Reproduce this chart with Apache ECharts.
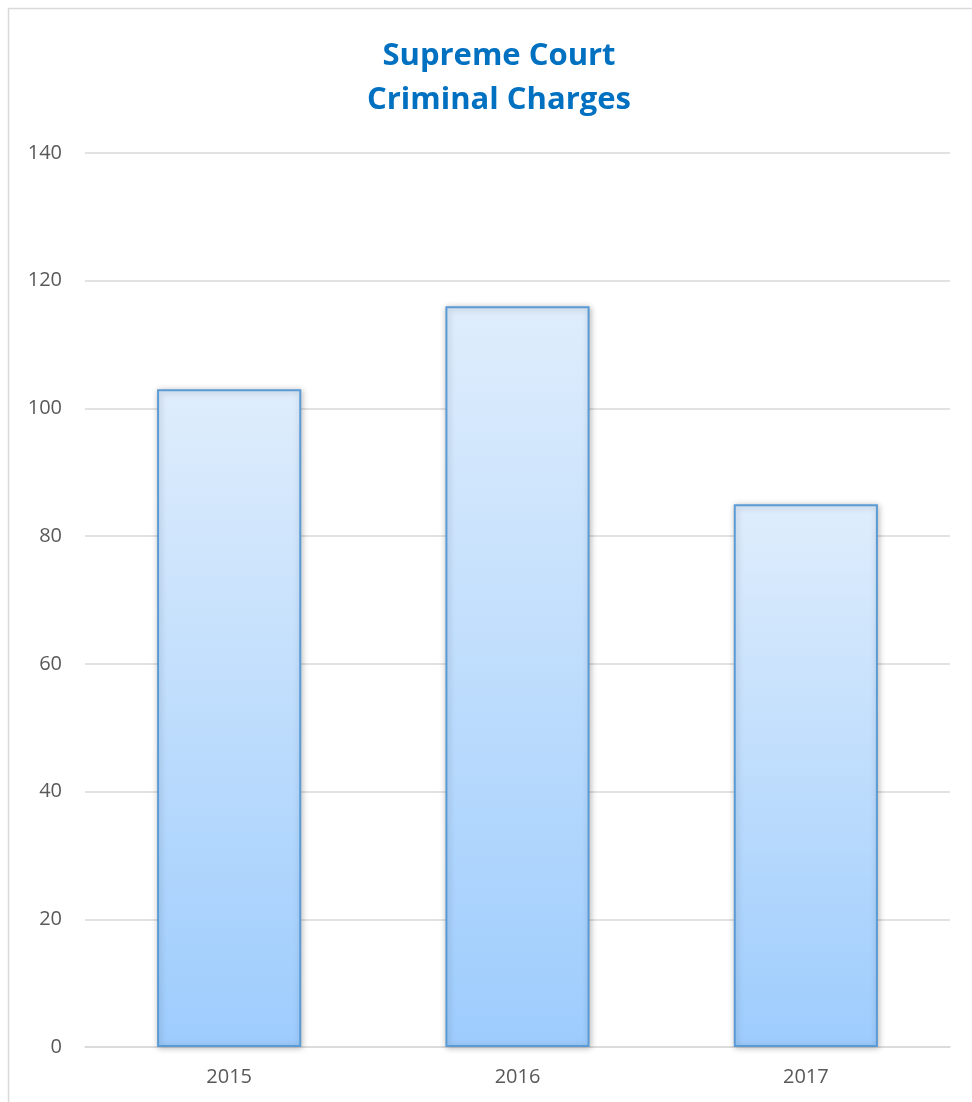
<!DOCTYPE html>
<html>
<head>
<meta charset="utf-8">
<script src="https://cdn.jsdelivr.net/npm/echarts@6/dist/echarts.min.js"></script>
<style>
html,body{margin:0;padding:0;background:#fff;}
#chart{width:972px;height:1102px;}
</style>
</head>
<body>
<div id="chart"></div>
<script>
const categories = ['2015', '2016', '2017'];
const values = [103, 116, 85];
const yTicks = { min: 0, max: 140, interval: 20 };
const titleText = 'Supreme Court\nCriminal Charges';

const chart = echarts.init(document.getElementById('chart'));
chart.setOption({
  backgroundColor: '#ffffff',
  animation: false,
  graphic: [{
    type: 'rect',
    shape: { x: 8.5, y: 8.5, width: 1000, height: 1200 },
    style: { fill: 'none', stroke: '#d9d9d9', lineWidth: 1.5 },
    silent: true
  }],
  title: {
    text: titleText,
    left: 494,
    textAlign: 'center',
    top: 29,
    textStyle: {
      fontFamily: 'Open Sans',
      fontWeight: 'bold',
      fontSize: 31,
      lineHeight: 44,
      color: '#0070C0'
    }
  },
  grid: { left: 85, right: 22, top: 153, bottom: 55, containLabel: false },
  xAxis: {
    type: 'category',
    data: categories,
    axisLine: { show: true, lineStyle: { color: '#d9d9d9', width: 1.5 } },
    axisTick: { show: false },
    axisLabel: { color: '#595959', fontSize: 20, fontFamily: 'Open Sans', margin: 20 }
  },
  yAxis: {
    type: 'value',
    min: yTicks.min,
    max: yTicks.max,
    interval: yTicks.interval,
    axisLine: { show: false },
    axisTick: { show: false },
    splitLine: { lineStyle: { color: '#d9d9d9', width: 1.5 } },
    axisLabel: { color: '#595959', fontSize: 20, fontFamily: 'Open Sans', margin: 23 }
  },
  series: [{
    type: 'bar',
    data: values,
    barWidth: '50%',
    itemStyle: {
      color: new echarts.graphic.LinearGradient(0, 0, 0, 1, [
        { offset: 0, color: '#DFEDFC' },
        { offset: 1, color: '#9DCCFD' }
      ]),
      borderColor: '#5B9BD5',
      borderWidth: 2,
      shadowColor: 'rgba(0,0,0,0.25)',
      shadowBlur: 6,
      shadowOffsetX: 1,
      shadowOffsetY: 1
    }
  }]
});
</script>
</body>
</html>
